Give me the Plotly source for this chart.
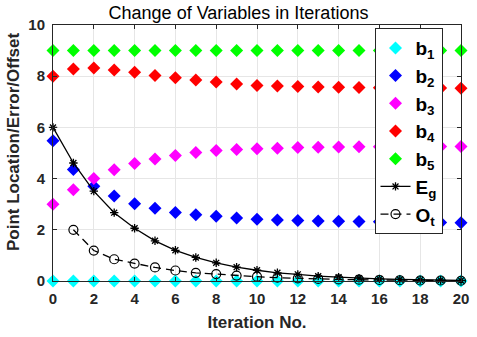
import plotly.graph_objects as go

iters = list(range(21))
b1 = [0.0] * 21
b2 = [5.48, 4.36, 3.70, 3.32, 3.02, 2.84, 2.68, 2.59, 2.53, 2.46, 2.41, 2.38, 2.36, 2.34, 2.33, 2.32, 2.31, 2.30, 2.30, 2.29, 2.28]
b3 = [3.00, 3.56, 4.00, 4.35, 4.59, 4.77, 4.90, 5.02, 5.10, 5.14, 5.17, 5.19, 5.21, 5.22, 5.23, 5.24, 5.24, 5.25, 5.25, 5.25, 5.25]
b4 = [8.00, 8.28, 8.32, 8.24, 8.15, 8.03, 7.94, 7.85, 7.77, 7.70, 7.64, 7.62, 7.60, 7.58, 7.57, 7.56, 7.55, 7.55, 7.54, 7.54, 7.53]
b5 = [9.0] * 21
eg = [6.00, 4.61, 3.51, 2.67, 2.06, 1.57, 1.20, 0.92, 0.71, 0.54, 0.42, 0.32, 0.26, 0.19, 0.15, 0.11, 0.08, 0.06, 0.04, 0.03, 0.02]
ot_x = list(range(1, 21))
ot = [2.00, 1.19, 0.85, 0.68, 0.53, 0.41, 0.32, 0.27, 0.21, 0.17, 0.13, 0.10, 0.08, 0.06, 0.05, 0.04, 0.03, 0.02, 0.02, 0.01]

FONT = "Liberation Sans, Arial, Helvetica"
fig = go.Figure()
for name, vals, col in [("b<sub>1</sub>", b1, "#00ffff"), ("b<sub>2</sub>", b2, "#0000ff"),
                        ("b<sub>3</sub>", b3, "#ff00ff"), ("b<sub>4</sub>", b4, "#ff0000"),
                        ("b<sub>5</sub>", b5, "#00ff00")]:
    fig.add_trace(go.Scatter(x=iters, y=vals, mode="markers", name=name,
                             marker=dict(symbol="diamond", size=10, color=col, line=dict(width=0)),
                             cliponaxis=False))
fig.add_trace(go.Scatter(x=iters, y=eg, mode="lines+markers", name="E<sub>g</sub>",
                         line=dict(color="black", width=1.3),
                         marker=dict(symbol="asterisk-open", size=7, color="black", line=dict(width=1.3, color="black")),
                         cliponaxis=False))
fig.add_trace(go.Scatter(x=ot_x, y=ot, mode="lines+markers", name="O<sub>t</sub>",
                         line=dict(color="black", width=1.3, dash="8px,5px"),
                         marker=dict(symbol="circle-open", size=9, color="black", line=dict(width=1.2, color="black")),
                         cliponaxis=False))

fig.update_layout(
    width=477, height=337,
    margin=dict(l=53, r=8, t=25, b=54),
    paper_bgcolor="white", plot_bgcolor="white",
    title=dict(text="Change of Variables in Iterations", x=0.5, xanchor="center", y=0.963, yanchor="middle",
               font=dict(family=FONT, size=18, color="black")),
    font=dict(family=FONT, color="#262626"),
    showlegend=True,
    legend=dict(x=0.788, y=0.988, xanchor="left", yanchor="top", bgcolor="white",
                bordercolor="#262626", borderwidth=1,
                font=dict(size=19, family=FONT, color="black", weight="bold"),
                itemwidth=30, tracegroupgap=0),
    annotations=[dict(text="Point Location/Error/Offset", textangle=-90,
                      xref="paper", yref="paper", x=-0.0966, y=0.545,
                      xanchor="center", yanchor="middle", showarrow=False,
                      font=dict(size=17, family=FONT, weight="bold", color="#262626"))],
)
fig.update_xaxes(range=[0, 20], tickmode="array", tickvals=list(range(0, 21, 2)),
                 showgrid=True, gridcolor="#e6e6e6", gridwidth=1, zeroline=False,
                 showline=True, linecolor="#262626", linewidth=1, mirror="ticks",
                 ticks="inside", ticklen=4, tickcolor="#262626", ticklabelstandoff=4,
                 ticklabeloverflow="allow",
                 tickfont=dict(size=15, weight="bold", color="#262626"),
                 title=dict(text="Iteration No.", font=dict(size=17, weight="bold", color="#262626"), standoff=10))
fig.update_yaxes(range=[0, 10], tickmode="array", tickvals=list(range(0, 11, 2)),
                 showgrid=True, gridcolor="#e6e6e6", gridwidth=1, zeroline=False,
                 showline=True, linecolor="#262626", linewidth=1, mirror="ticks",
                 ticks="inside", ticklen=4, tickcolor="#262626", ticklabelstandoff=4,
                 ticklabeloverflow="allow",
                 tickfont=dict(size=15, weight="bold", color="#262626"))

fig.write_html("out.html")
